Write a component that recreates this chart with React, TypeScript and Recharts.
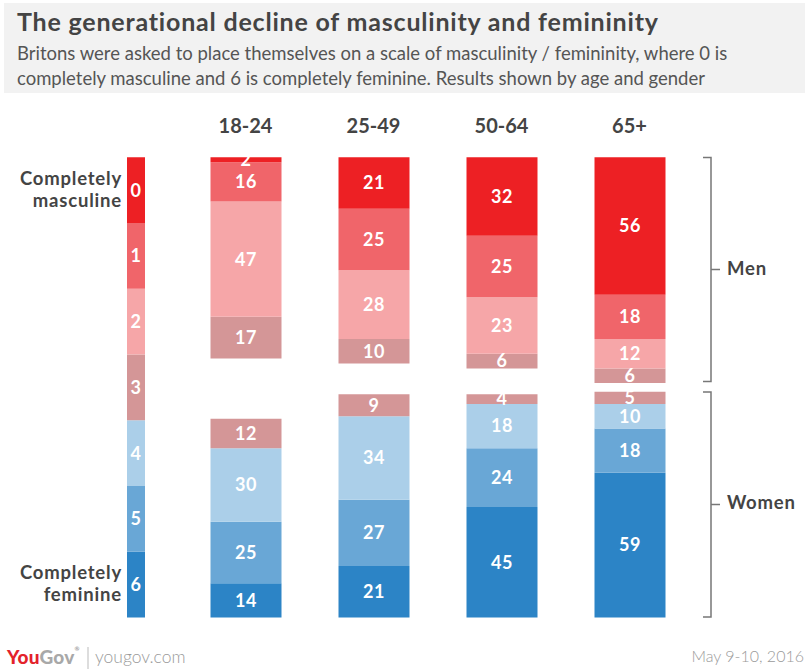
import { Bar, BarChart, LabelList, XAxis, YAxis } from 'recharts'

const AGE_GROUPS = ['18-24', '25-49', '50-64', '65+']

// men, stacked from the top (0 = completely masculine)
const MEN_0 = [2, 21, 32, 56]
const MEN_1 = [16, 25, 25, 18]
const MEN_2 = [47, 28, 23, 12]
const MEN_3 = [17, 10, 6, 6]

// women, stacked from the bottom (6 = completely feminine)
const WOMEN_3 = [12, 9, 4, 5]
const WOMEN_4 = [30, 34, 18, 10]
const WOMEN_5 = [25, 27, 24, 18]
const WOMEN_6 = [14, 21, 45, 59]

const SCALE_LEVELS = ['0', '1', '2', '3', '4', '5', '6']
const SCALE_SPAN = 187.5

const CORES = {
  '0': '#ed2024',
  '1': '#f0656a',
  '2': '#f6a6a8',
  '3': '#d49697',
  '4': '#abcfe9',
  '5': '#69a7d6',
  '6': '#2c84c6',
} as const

const FONTE = 'Lato, "Open Sans", sans-serif'

const linhas = AGE_GROUPS.map((idade, i) => {
  const homens = MEN_0[i] + MEN_1[i] + MEN_2[i] + MEN_3[i]
  const mulheres = WOMEN_3[i] + WOMEN_4[i] + WOMEN_5[i] + WOMEN_6[i]
  return {
    idade,
    w6: WOMEN_6[i],
    w5: WOMEN_5[i],
    w4: WOMEN_4[i],
    w3: WOMEN_3[i],
    vazio: SCALE_SPAN - homens - mulheres,
    m3: MEN_3[i],
    m2: MEN_2[i],
    m1: MEN_1[i],
    m0: MEN_0[i],
  }
})

const SERIES: { chave: string; nivel: keyof typeof CORES }[] = [
  { chave: 'w6', nivel: '6' },
  { chave: 'w5', nivel: '5' },
  { chave: 'w4', nivel: '4' },
  { chave: 'w3', nivel: '3' },
  { chave: 'm3', nivel: '3' },
  { chave: 'm2', nivel: '2' },
  { chave: 'm1', nivel: '1' },
  { chave: 'm0', nivel: '0' },
]

const legenda = [
  Object.fromEntries([['nome', 'escala'], ...SCALE_LEVELS.map((n) => [`l${n}`, 1])]),
]

const rotuloBranco = { fill: '#fff', fontSize: 18, fontWeight: 700, fontFamily: FONTE, letterSpacing: 0.5 }

const textoCinza = { position: 'absolute' as const, fontFamily: FONTE, color: '#444', whiteSpace: 'nowrap' as const }

export default function App() {
  const barrasMulheres = SERIES.slice(0, 4)
  const barrasHomens = SERIES.slice(4)

  return (
    <div style={{ position: 'absolute', left: 0, top: 0, width: 808, height: 670, background: '#fff', overflow: 'hidden' }}>
      <div style={{ position: 'absolute', left: 4, top: 3, width: 801, height: 90, background: '#f2f2f2' }} />
      <div style={{ ...textoCinza, left: 17, top: 6, fontSize: 25, lineHeight: '30px', fontWeight: 700, letterSpacing: 0.8 }}>
        The generational decline of masculinity and femininity
      </div>
      <div style={{ ...textoCinza, left: 17, top: 41, fontSize: 18.5, fontWeight: 400, color: '#555', lineHeight: '25px' }}>
        Britons were asked to place themselves on a scale of masculinity / femininity, where 0 is
        <br />
        completely masculine and 6 is completely feminine. Results shown by age and gender
      </div>

      <div style={{ position: 'absolute', left: 0, top: 0 }}>
        <BarChart
          width={808}
          height={670}
          data={linhas}
          margin={{ top: 127.3, right: 114.5, bottom: 52.5, left: 181.5 }}
          barSize={71}
        >
          <XAxis
            dataKey="idade"
            orientation="top"
            height={30}
            axisLine={false}
            tickLine={false}
            tickSize={0}
            tickMargin={24}
            tick={{ fill: '#444', fontSize: 20, fontWeight: 700, fontFamily: FONTE }}
          />
          <YAxis hide domain={[0, SCALE_SPAN]} />
          {barrasMulheres.map((s) => (
            <Bar key={s.chave} dataKey={s.chave} stackId="a" fill={CORES[s.nivel]} isAnimationActive={false}>
              <LabelList dataKey={s.chave} position="center" style={rotuloBranco} />
            </Bar>
          ))}
          <Bar dataKey="vazio" stackId="a" fill="transparent" isAnimationActive={false} />
          {barrasHomens.map((s) => (
            <Bar key={s.chave} dataKey={s.chave} stackId="a" fill={CORES[s.nivel]} isAnimationActive={false}>
              <LabelList dataKey={s.chave} position="center" style={rotuloBranco} />
            </Bar>
          ))}
        </BarChart>
      </div>

      <div style={{ position: 'absolute', left: 116, top: 0 }}>
        <BarChart width={40} height={670} data={legenda} margin={{ top: 157.3, right: 0, bottom: 52.5, left: 0 }} barSize={18}>
          <XAxis dataKey="nome" hide />
          <YAxis hide domain={[0, SCALE_LEVELS.length]} />
          {[...SCALE_LEVELS].reverse().map((n) => (
            <Bar key={n} dataKey={`l${n}`} stackId="l" fill={CORES[n as keyof typeof CORES]} isAnimationActive={false}>
              <LabelList dataKey={`l${n}`} position="center" formatter={() => n} style={rotuloBranco} />
            </Bar>
          ))}
        </BarChart>
      </div>

      <div style={{ ...textoCinza, left: 0, width: 122, top: 167, textAlign: 'right', fontSize: 18.5, fontWeight: 700, lineHeight: '22px', letterSpacing: 0.8 }}>
        Completely
        <br />
        masculine
      </div>
      <div style={{ ...textoCinza, left: 0, width: 122, top: 561, textAlign: 'right', fontSize: 18.5, fontWeight: 700, lineHeight: '22px', letterSpacing: 0.8 }}>
        Completely
        <br />
        feminine
      </div>

      <svg width={808} height={670} style={{ position: 'absolute', left: 0, top: 0, pointerEvents: 'none' }}>
        <g stroke="#777" strokeWidth={1.5} fill="none">
          <path d="M703 157.5 H711 V381.5 H703 M711 269.5 H720" />
          <path d="M703 392 H711 V617 H703 M711 504.5 H720" />
          <path d="M88 647 V669" stroke="#bbb" strokeWidth={1} />
        </g>
      </svg>
      <div style={{ ...textoCinza, left: 727, top: 257, fontSize: 18.5, fontWeight: 700, letterSpacing: 0.8 }}>Men</div>
      <div style={{ ...textoCinza, left: 727, top: 491, fontSize: 18.5, fontWeight: 700, letterSpacing: 0.8 }}>Women</div>

      <div style={{ ...textoCinza, left: 7, top: 645, fontSize: 19, fontWeight: 900, letterSpacing: 0.2 }}>
        <span style={{ color: '#e3222b' }}>You</span>
        <span style={{ color: '#a8a8a8' }}>Gov</span>
        <span style={{ color: '#a8a8a8', fontSize: 6, verticalAlign: 'top' }}>®</span>
      </div>
      <div style={{ ...textoCinza, left: 95, top: 646, fontSize: 17.5, fontWeight: 300, color: '#9a9a9a' }}>yougov.com</div>
      <div style={{ ...textoCinza, right: 4, top: 646, fontSize: 16, fontWeight: 300, color: '#9a9a9a' }}>May 9-10, 2016</div>
    </div>
  )
}
